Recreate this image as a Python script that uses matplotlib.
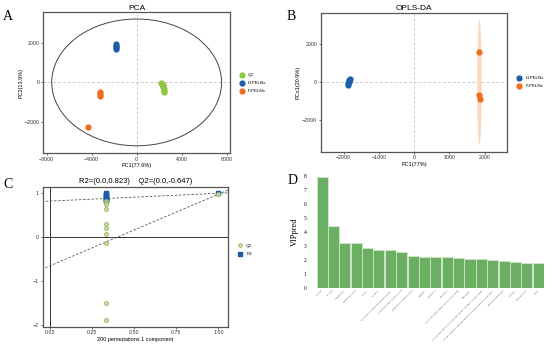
import numpy as np
import matplotlib
matplotlib.use("Agg")
import matplotlib.pyplot as plt
from matplotlib.patches import Ellipse
from matplotlib.lines import Line2D

plt.rcParams.update({'font.family': 'sans-serif', 'font.sans-serif': ['Liberation Sans', 'DejaVu Sans']})

GREEN = "#8DC63F"; BLUE = "#1B5EA8"; ORANGE = "#F26B1D"
QGREEN = "#93B45E"; BAR = "#6AAF62"

# ---- data: PCA scores
qc_x = [2200, 2260, 2320, 2380, 2420, 2440, 2430, 2300]
qc_y = [-30, -100, -170, -240, -330, -430, -530, -200]
dp_x = [-1850, -1830, -1820, -1840]
dp_y = [1900, 1800, 1690, 1750]
fp_x = [-3250, -3250, -3270, -4300]
fp_y = [-500, -610, -720, -2280]

# ---- OPLS-DA scores
od_x = [-1830, -1850, -1860, -1870, -1880, -1840]
od_y = [150, 100, 50, -50, -150, 0]
of_x = [1850, 1840, 1870]
of_y = [1570, -670, -880]

# ---- permutation test
perm_x = 0.333
q2_perm = [0.82, 0.79, 0.77, 0.75, 0.643, 0.30, 0.21, 0.068, -0.136, -1.50, -1.88]
r2_perm = [1.0, 0.98, 0.96, 0.94, 0.92, 0.90, 0.88, 0.86, 0.84, 0.82]
r2_int, q2_int = 0.823, -0.647
r2_orig, q2_orig = 1.0, 0.98

# ---- VIP
vip = [7.93, 4.45, 3.25, 3.2, 2.85, 2.75, 2.72, 2.55, 2.3, 2.25,
       2.2, 2.2, 2.15, 2.1, 2.1, 2.03, 1.95, 1.9, 1.8, 1.8]
vip_names = ["Lyso-PE", "PA 36:4", "Isoquercitrin", "Galactinol 2H2O", "Arctiin", "DL-Malic",
             "N-(1-Deoxy-1-fructosyl)phenylalanine", "5-Hydroxyindole-3-acetic acid",
             "Trigonelline hydrochloride", "Betaine", "L-Leucine", "Quercetin",
             "3-O-p-Coumaroylquinic acid 4-O-glucoside", "Adenosine",
             "1-(2-Hydroxyethyl)-2,5-dihydroxyphenyl acetate 4-O-glucoside",
             "2-O-(6-O-Malonyl-glucopyranosyl)-4-hydroxybenzoic acid ester",
             "Dihydroxyflavanone", "L-Valine", "Guanosine 3'", "Uracil"]

W, H = 550, 348
fig = plt.figure(figsize=(5.5, 3.48), dpi=100)
fig.patch.set_facecolor('white')

def px(l, t, r, b):
    return [l/W, 1-b/H, (r-l)/W, (b-t)/H]

def style(ax):
    for s in ax.spines.values():
        s.set_color('#555555'); s.set_linewidth(0.9)
    ax.tick_params(labelsize=3.8, length=1.5, width=0.5, pad=1.2, colors='#333333')

def zero_lines(ax):
    ax.axhline(0, color='#cccccc', lw=0.7, ls=(0, (3, 2)), zorder=0)
    ax.axvline(0, color='#cccccc', lw=0.7, ls=(0, (3, 2)), zorder=0)

# A: PCA
ax = fig.add_axes(px(43.3, 12.3, 230, 153.3))
style(ax); zero_lines(ax)
ax.add_patch(Ellipse((0, -20), 15100, 6420, fill=False, ec='#444444', lw=0.7))
ax.scatter(qc_x, qc_y, s=12, color=GREEN, zorder=3, label='QC')
ax.scatter(dp_x, dp_y, s=12, color=BLUE, zorder=3, label='D-PELNs')
ax.scatter(fp_x, fp_y, s=12, color=ORANGE, zorder=3, label='F-PELNs')
ax.set_xlim(-8300, 8300); ax.set_ylim(-3610, 3530)
ax.set_xticks([-8000, -4000, 0, 4000, 8000]); ax.set_yticks([-2000, 0, 2000])
ax.set_xlabel('PC1(77.6%)', fontsize=4, labelpad=1)
ax.set_ylabel('PC2(13.9%)', fontsize=4, labelpad=1)
ax.set_title('PCA', fontsize=6, pad=2)
ax.legend(loc='center left', bbox_to_anchor=(1.02, 0.5), frameon=False, fontsize=3.2,
          handletextpad=0.3, markerscale=1.0, labelspacing=0.9)

# B: OPLS-DA
ax = fig.add_axes(px(321, 12.7, 507.3, 151.7))
style(ax); zero_lines(ax)
ax.add_patch(Ellipse((1850, -10), 130, 6600, color='#FBD5BB', alpha=0.9, lw=0, zorder=1))
ax.scatter(od_x, od_y, s=12, color=BLUE, zorder=3, label='D-PELNs')
ax.scatter(of_x, of_y, s=12, color=ORANGE, zorder=3, label='F-PELNs')
ax.set_xlim(-2640, 2640); ax.set_ylim(-3660, 3660)
ax.set_xticks([-2000, -1000, 0, 1000, 2000]); ax.set_yticks([-2000, 0, 2000])
ax.set_xlabel('PC1(77%)', fontsize=4, labelpad=1)
ax.set_ylabel('PCo1(20.9%)', fontsize=4, labelpad=1)
ax.set_title('OPLS-DA', fontsize=6, pad=2)
ax.legend(loc='center left', bbox_to_anchor=(1.02, 0.5), frameon=False, fontsize=3.2,
          handletextpad=0.3, labelspacing=0.9)

# C: permutation
ax = fig.add_axes(px(42.7, 187.3, 228.3, 326.7))
style(ax)
ax.axhline(0, color='#333333', lw=0.7, zorder=1)
ax.axvline(0, color='#333333', lw=0.7, zorder=1)
xx = np.array([-0.05, 1.07])
ax.plot(xx, r2_int + (r2_orig - r2_int)*xx, color='#555555', lw=0.6, ls=(0, (3, 2)), zorder=2)
ax.plot(xx, q2_int + (q2_orig - q2_int)*xx, color='#555555', lw=0.6, ls=(0, (3, 2)), zorder=2)
ax.scatter([perm_x]*len(r2_perm), r2_perm, s=6, marker='s', color=BLUE, zorder=3)
ax.scatter([perm_x]*len(q2_perm), q2_perm, s=8, marker='o', facecolor='#C9DBA6',
           edgecolor=QGREEN, lw=0.6, zorder=4)
ax.scatter([1.0], [r2_orig], s=6, marker='s', color=BLUE, zorder=3)
ax.scatter([1.0], [q2_orig], s=8, marker='o', facecolor='#C9DBA6', edgecolor=QGREEN, lw=0.6, zorder=4)
ax.set_xlim(-0.043, 1.059); ax.set_ylim(-2.03, 1.136)
ax.set_xticks([0, 0.25, 0.5, 0.75, 1.0]); ax.set_xticklabels(['0.00', '0.25', '0.50', '0.75', '1.00'])
ax.set_yticks([-2, -1, 0, 1])
ax.set_xlabel('200 permutations 1 component', fontsize=4, labelpad=1)
ax.set_title('R2=(0.0,0.823)    Q2=(0.0,-0.647)', fontsize=5.5, pad=3)
h = [Line2D([], [], ls='', marker='o', ms=2.6, mfc='#C9DBA6', mec=QGREEN, mew=0.6),
     Line2D([], [], ls='', marker='s', ms=2.4, color=BLUE)]
ax.legend(h, ['Q2', 'R2'], loc='center left', bbox_to_anchor=(1.02, 0.55), frameon=False,
          fontsize=3.2, handletextpad=0.3, labelspacing=0.9)

# D: VIP bars
ax = fig.add_axes(px(311.7, 174.3, 544, 288.3))
pos = np.arange(len(vip))
ax.bar(pos, vip, width=0.97, color=BAR, edgecolor='#D8EBD4', lw=0.5)
ax.set_xlim(-0.91, 19.5); ax.set_ylim(0, 8.1)
for s in ax.spines.values():
    s.set_visible(False)
ax.set_yticks(range(9))
ax.tick_params(axis='y', labelsize=4, length=0, pad=4)
ax.tick_params(axis='x', length=0, pad=1)
ax.set_xticks(pos)
ax.set_xticklabels(vip_names, rotation=45, ha='right', rotation_mode='anchor', fontsize=1.6,
                   family='DejaVu Sans', color='#444444')
for t in ax.get_yticklabels():
    t.set_family('Liberation Serif')
ax.set_ylabel('VIPpred', fontsize=6, family='Liberation Serif', labelpad=3)

# panel letters
for lab, x, y in [('A', 3, 16), ('B', 287, 16), ('C', 3, 184), ('D', 288, 181)]:
    fig.text(x/W, 1-y/H, lab, fontsize=10, family='Liberation Serif', va='center', ha='left')

fig.savefig("out.png", dpi=100, facecolor='white')
